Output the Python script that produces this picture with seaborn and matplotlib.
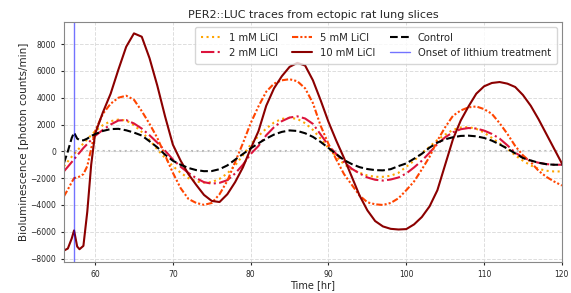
import numpy as np
import pandas as pd
import matplotlib
matplotlib.use("Agg")
import matplotlib.pyplot as plt
import seaborn as sns

# time points [hr]
time_hr = [56, 56.5, 57, 57.3, 57.7, 58, 58.5, 59, 59.5,
           60, 61, 62, 63, 64, 65, 66, 67, 68, 69,
           70, 71, 72, 73, 74, 75, 76, 77, 78, 79,
           80, 81, 82, 83, 84, 85, 86, 87, 88, 89,
           90, 91, 92, 93, 94, 95, 96, 97, 98, 99,
           100, 101, 102, 103, 104, 105, 106, 107, 108, 109,
           110, 111, 112, 113, 114, 115, 116, 117, 118, 119, 120]

licl_1mM = [-1120, -750, -400, -200, 50, 250, 600, 900, 1200,
            1500, 1950, 2250, 2370, 2300, 1950, 1450, 850, 150, -500,
            -1100, -1600, -2000, -2250, -2330, -2300, -2050, -1650, -1050, -300,
            500, 1150, 1700, 2150, 2420, 2500, 2420, 2100, 1600, 950,
            250, -400, -950, -1350, -1600, -1800, -1900, -1900, -1820, -1600,
            -1150, -700, -150, 350, 850, 1250, 1600, 1780, 1810, 1680,
            1400, 1000, 600, 200, -300, -700, -1050, -1300, -1450, -1500, -1500]

licl_2mM = [-1490, -1150, -800, -600, -300, -100, 250, 550, 850,
            1150, 1600, 2000, 2300, 2330, 2080, 1700, 1200, 650, 50,
            -600, -1150, -1610, -2000, -2300, -2410, -2350, -2150, -1650, -1000,
            -200, 400, 1200, 1800, 2250, 2520, 2610, 2450, 2050, 1250,
            450, -200, -800, -1300, -1650, -1950, -2120, -2180, -2100, -1950,
            -1650, -1200, -700, -100, 550, 1050, 1420, 1650, 1740, 1700,
            1550, 1300, 950, 450, -100, -450, -700, -850, -950, -1000, -1000]

licl_5mM = [-3350, -2850, -2300, -2000, -1950, -1880, -1700, -1100, 200,
            1500, 2800, 3550, 4000, 4150, 3850, 3000, 2050, 1000, -300,
            -1600, -2750, -3550, -3850, -3990, -3850, -3200, -2200, -800, 600,
            2100, 3350, 4450, 5050, 5300, 5380, 5230, 4700, 3600, 1900,
            550, -600, -1700, -2500, -3300, -3800, -3950, -4000, -3850, -3500,
            -2900, -2250, -1350, -400, 800, 1800, 2650, 3050, 3280, 3350,
            3150, 2800, 2100, 1300, 400, -300, -800, -1450, -1900, -2250, -2550]

licl_10mM = [-7400, -7250, -6500, -5900, -7100, -7300, -7050, -4500, -1000,
             1300, 2900, 4300, 6100, 7800, 8800, 8550, 6950, 4900, 2600,
             500, -700, -1700, -2500, -3250, -3700, -3780, -3200, -2300, -1200,
             200, 1500, 3400, 4700, 5600, 6300, 6600, 6400, 5300, 3800,
             2200, 800, -500, -1900, -3300, -4400, -5200, -5600, -5780, -5830,
             -5800, -5450, -4900, -4100, -2900, -1000, 900, 2300, 3350, 4300,
             4850, 5100, 5170, 5050, 4800, 4200, 3400, 2400, 1300, 200, -900]

control = [-870, 0, 1000, 1400, 950, 850, 820, 950, 1150,
           1280, 1520, 1660, 1680, 1570, 1400, 1180, 750, 300, -250,
           -700, -1000, -1240, -1400, -1480, -1470, -1330, -1050, -620, -200,
           220, 600, 950, 1250, 1450, 1560, 1520, 1350, 1080, 700,
           250, -200, -650, -950, -1180, -1320, -1400, -1420, -1330, -1100,
           -900, -550, -180, 280, 650, 900, 1050, 1150, 1170, 1120,
           1000, 800, 520, 200, -150, -500, -680, -850, -960, -1000, -1000]

onset_hr = 57.3

series = [
    ("1 mM LiCl", licl_1mM, "orange", ":"),
    ("2 mM LiCl", licl_2mM, "crimson", "-."),
    ("5 mM LiCl", licl_5mM, "orangered", (0, (3, 1, 1, 1, 1, 1))),
    ("10 mM LiCl", licl_10mM, "darkred", "-"),
    ("Control", control, "black", "--"),
]

sns.set_style("white")
plt.rcParams['font.family'] = ['DejaVu Sans']

fig, ax = plt.subplots(figsize=(5.71, 2.93), dpi=100)
fig.subplots_adjust(left=0.112, right=0.984, top=0.925, bottom=0.106)

for name, vals, col, ls in series:
    df = pd.DataFrame({"t": time_hr, "y": vals})
    sns.lineplot(data=df, x="t", y="y", color=col, linestyle=ls, lw=1.5,
                 label=name, ax=ax, estimator=None, sort=False)

ax.axvline(onset_hr, color="blue", alpha=0.55, lw=1, label="Onset of lithium treatment")
ax.axhline(0, color="#bbbbbb", ls=":", lw=1.5, zorder=0)

ax.set_xlim(56, 120)
ax.set_ylim(-8250, 9650)
ax.set_xticks([60, 70, 80, 90, 100, 110, 120])
ax.set_yticks(range(-8000, 8001, 2000))
ax.grid(True, ls="--", color="#dddddd", lw=0.7)
ax.tick_params(labelsize=5.5, length=2, left=True, bottom=True)
for s in ax.spines.values():
    s.set_color("#888888")

ax.set_xlabel("Time [hr]", fontsize=7, labelpad=1)
ax.set_ylabel("Bioluminescence [photon counts/min]", fontsize=7.5, labelpad=1)
ax.set_title("PER2::LUC traces from ectopic rat lung slices", fontsize=8, pad=3)
ax.legend(loc="upper right", ncol=3, fontsize=7.2, columnspacing=1.4, borderpad=0.6)

fig.savefig("out.png", dpi=100)
